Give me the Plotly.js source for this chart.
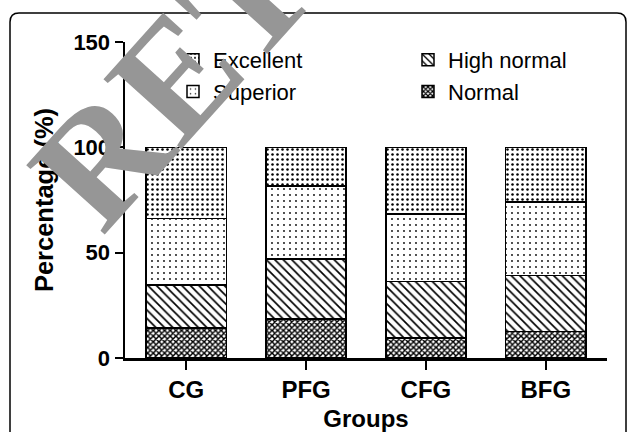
<!DOCTYPE html>
<html><head><meta charset="utf-8">
<script src="https://cdn.plot.ly/plotly-3.0.1.min.js"></script>
<style>html,body{margin:0;padding:0;background:#fff}#chart{width:627px;height:432px}</style>
</head><body><div id="chart"></div>
<script>
const groups = ['CG', 'PFG', 'CFG', 'BFG'];
const normal = [14.2, 18.6, 9.5, 12.6];
const highNormal = [20.5, 28.3, 26.8, 26.5];
const superior = [31.6, 34.8, 32.0, 35.0];
const excellent = [33.7, 18.3, 31.7, 25.9];
const yTicks = [0, 50, 100, 150];
const seriesNames = ['Normal', 'High normal', 'Superior', 'Excellent'];

const W = 627, H = 432;
const M = {l: 125, r: 20, t: 42, b: 74};
const pw = W - M.l - M.r, ph = H - M.t - M.b;
const px = x => (x - M.l) / pw;
const py = y => (H - M.b - y) / ph;

const FONT = 'Liberation Sans, Arial, sans-serif';

function bar(name, y, shape, size, solidity, legend) {
  return {
    type: 'bar', name: name, x: groups, y: y, width: 0.67, legend: legend,
    marker: {
      color: 'white',
      line: {color: 'black', width: 1.5},
      pattern: {shape: shape, size: size, solidity: solidity, fgcolor: 'black', bgcolor: 'white', fgopacity: 1}
    },
    hoverinfo: 'skip'
  };
}

const data = [
  bar(seriesNames[0], normal, 'x', 4, 0.6, 'legend2'),
  bar(seriesNames[1], highNormal, '\\', 6, 0.28, 'legend2'),
  bar(seriesNames[2], superior, '.', 6, 0.07, 'legend'),
  bar(seriesNames[3], excellent, '.', 5, 0.2, 'legend')
];

// frame (rounded rectangle around figure)
const fx0 = 10, fy0 = 13, fx1 = 626, fy1 = 440, r = 9;
const framePath = 'M ' + px(fx0) + ',' + py(fy1) +
  ' L ' + px(fx0) + ',' + py(fy0 + r) +
  ' Q ' + px(fx0) + ',' + py(fy0) + ' ' + px(fx0 + r) + ',' + py(fy0) +
  ' L ' + px(fx1 - r) + ',' + py(fy0) +
  ' Q ' + px(fx1) + ',' + py(fy0) + ' ' + px(fx1) + ',' + py(fy0 + r) +
  ' L ' + px(fx1) + ',' + py(fy1);

const layout = {
  width: W, height: H,
  margin: M,
  paper_bgcolor: 'white', plot_bgcolor: 'white',
  barmode: 'stack',
  font: {family: FONT, color: 'black'},
  showlegend: true,
  xaxis: {
    range: [-0.51, 3.51], showline: true, linewidth: 2.5, linecolor: 'black',
    ticks: 'outside', ticklen: 9, tickwidth: 2, tickcolor: 'black',
    tickfont: {family: FONT, size: 24, weight: 'bold'},
    showgrid: false, zeroline: false, automargin: false, fixedrange: true,
    title: {text: 'Groups', font: {family: FONT, size: 24, weight: 'bold'}, standoff: 10}
  },
  yaxis: {
    range: [0, 150], tickvals: yTicks, showline: true, linewidth: 2.5, linecolor: 'black',
    ticks: 'outside', ticklen: 8, tickwidth: 2, tickcolor: 'black',
    tickfont: {family: FONT, size: 22, weight: 'bold'},
    showgrid: false, zeroline: false, automargin: false, fixedrange: true,
    title: {text: 'Percentage (%)', font: {family: FONT, size: 25.5, weight: 'bold'}, standoff: 13}
  },
  legend: {
    x: px(173), y: py(39), xanchor: 'left', yanchor: 'top', traceorder: 'reversed',
    font: {family: FONT, size: 22}, bgcolor: 'rgba(0,0,0,0)', borderwidth: 0
  },
  legend2: {
    x: px(408), y: py(39), xanchor: 'left', yanchor: 'top', traceorder: 'reversed',
    font: {family: FONT, size: 22}, bgcolor: 'rgba(0,0,0,0)', borderwidth: 0
  },
  shapes: [{type: 'path', xref: 'paper', yref: 'paper', path: framePath, line: {color: 'black', width: 1.5}, layer: 'above'}],
  annotations: [{
    text: 'RETRACTED', xref: 'paper', yref: 'paper', x: px(398), y: py(-172),
    xanchor: 'center', yanchor: 'middle', textangle: -48, showarrow: false,
    font: {family: 'Liberation Serif, Times New Roman, serif', size: 160, weight: 'bold', color: '#969696'}
  }]
};

Plotly.newPlot('chart', data, layout, {displayModeBar: false, staticPlot: true});
</script>
</body></html>
